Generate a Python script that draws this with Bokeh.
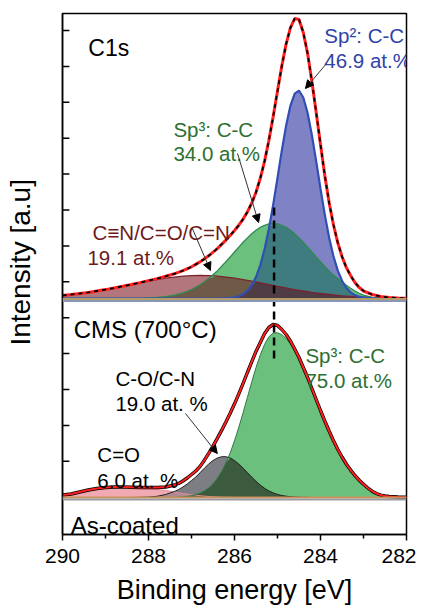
import numpy as np
from bokeh.plotting import figure
from bokeh.models import Range1d, FixedTicker, Label, Arrow, NormalHead, Span
from bokeh.embed import file_html
from bokeh.resources import INLINE

# ---------------- data: upper spectrum (C1s, fitted components) ----------------
top_x = [290.0, 289.8, 289.6, 289.4, 289.2, 289.0, 288.8, 288.6, 288.4, 288.2,
         288.0, 287.8, 287.6, 287.4, 287.2, 287.0, 286.8, 286.6, 286.4, 286.2,
         286.1, 286.0, 285.9, 285.8, 285.7, 285.6, 285.5, 285.4, 285.3, 285.2,
         285.1, 285.0, 284.9, 284.8, 284.7, 284.6, 284.5, 284.4, 284.3, 284.2,
         284.1, 284.0, 283.9, 283.8, 283.7, 283.6, 283.5, 283.4, 283.3, 283.2,
         283.1, 283.0, 282.8, 282.6, 282.4, 282.2, 282.0]
top_cn = [3.1, 4.0, 5.0, 6.1, 7.5, 8.9, 10.5, 12.2, 13.9, 15.7,
          17.4, 18.9, 20.3, 21.4, 22.3, 22.8, 23.0, 22.8, 22.3, 21.4,
          20.9, 20.3, 19.6, 18.9, 18.2, 17.4, 16.5, 15.7, 14.8, 13.9,
          13.1, 12.2, 11.4, 10.5, 9.7, 8.9, 8.2, 7.5, 6.8, 6.1,
          5.5, 5.0, 4.5, 4.0, 3.5, 3.1, 2.7, 2.4, 2.1, 1.8,
          1.6, 1.4, 1.0, 0.7, 0.5, 0.3, 0.2]
top_sp3 = [0.0, 0.0, 0.0, 0.0, 0.0, 0.0, 0.0, 0.0, 0.1, 0.2,
           0.5, 1.0, 1.9, 3.3, 5.5, 8.9, 13.6, 19.9, 27.6, 36.7,
           41.5, 46.5, 51.4, 56.2, 60.6, 64.7, 68.2, 71.1, 73.2, 74.6,
           75.0, 74.6, 73.2, 71.1, 68.2, 64.7, 60.6, 56.2, 51.4, 46.5,
           41.5, 36.7, 32.0, 27.6, 23.6, 19.9, 16.5, 13.2, 10.2, 7.5,
           5.2, 3.4, 1.2, 0.3, 0.0, 0.0, 0.0]
top_sp2 = [0.0, 0.0, 0.0, 0.0, 0.0, 0.0, 0.0, 0.0, 0.0, 0.0,
           0.0, 0.0, 0.0, 0.0, 0.0, 0.0, 0.0, 0.0, 0.0, 0.3,
           0.6, 1.2, 2.3, 4.3, 7.8, 13.2, 21.5, 33.4, 49.4, 69.8,
           93.9, 120.7, 147.9, 172.8, 192.7, 204.9, 207.8, 201.0, 185.5, 163.3,
           137.1, 109.8, 83.9, 61.1, 42.5, 28.1, 17.8, 10.7, 6.2, 3.4,
           1.8, 0.9, 0.2, 0.0, 0.0, 0.0, 0.0]
top_env = [3.1, 4.0, 5.0, 6.1, 7.5, 8.9, 10.5, 12.2, 14.0, 15.9,
           17.9, 19.9, 22.2, 24.7, 27.8, 31.7, 36.6, 42.7, 49.9, 58.4,
           63.0, 68.0, 73.3, 79.4, 86.6, 95.3, 106.2, 120.2, 137.4, 158.3,
           182.0, 207.5, 232.5, 254.4, 270.6, 280.0, 279.0, 266.0, 245.0, 217.0,
           186.0, 154.0, 123.0, 96.0, 74.0, 56.0, 42.0, 31.0, 23.0, 16.0,
           11.0, 7.5, 4.0, 2.0, 1.0, 0.5, 0.3]

# ---------------- data: lower spectrum (CMS 700 °C) ----------------
bot_x = [290.0, 289.8, 289.6, 289.4, 289.2, 289.0, 288.8, 288.6, 288.4, 288.2,
         288.0, 287.8, 287.6, 287.4, 287.3, 287.2, 287.1, 287.0, 286.9, 286.8,
         286.7, 286.6, 286.5, 286.4, 286.3, 286.2, 286.1, 286.0, 285.9, 285.8,
         285.7, 285.6, 285.5, 285.4, 285.3, 285.2, 285.1, 285.0, 284.9, 284.8,
         284.7, 284.6, 284.5, 284.4, 284.3, 284.2, 284.1, 284.0, 283.9, 283.8,
         283.7, 283.6, 283.5, 283.4, 283.3, 283.2, 283.1, 283.0, 282.9, 282.8,
         282.7, 282.6, 282.5, 282.4, 282.2, 282.0]
bot_co = [2.0, 3.5, 5.5, 7.5, 9.0, 10.0, 10.5, 10.5, 10.0, 9.5,
          9.0, 8.0, 7.0, 5.5, 4.7, 4.0, 3.4, 2.8, 2.3, 1.8,
          1.4, 1.0, 0.7, 0.5, 0.3, 0.2, 0.1, 0.0, 0.0, 0.0,
          0.0, 0.0, 0.0, 0.0, 0.0, 0.0, 0.0, 0.0, 0.0, 0.0,
          0.0, 0.0, 0.0, 0.0, 0.0, 0.0, 0.0, 0.0, 0.0, 0.0,
          0.0, 0.0, 0.0, 0.0, 0.0, 0.0, 0.0, 0.0, 0.0, 0.0,
          0.0, 0.0, 0.0, 0.0, 0.0, 0.0]
bot_con = [0.0, 0.0, 0.0, 0.0, 0.0, 0.0, 0.0, 0.0, 0.0, 0.2,
           0.5, 1.2, 3.0, 6.0, 8.0, 10.5, 13.5, 17.0, 20.4, 24.9,
           29.3, 33.5, 37.0, 39.5, 40.8, 40.8, 39.5, 37.0, 33.5, 29.3,
           24.9, 20.4, 16.2, 12.4, 9.2, 6.6, 4.6, 3.1, 2.0, 1.3,
           0.8, 0.5, 0.3, 0.2, 0.1, 0.0, 0.0, 0.0, 0.0, 0.0,
           0.0, 0.0, 0.0, 0.0, 0.0, 0.0, 0.0, 0.0, 0.0, 0.0,
           0.0, 0.0, 0.0, 0.0, 0.0, 0.0]
bot_sp3 = [0.0, 0.0, 0.0, 0.0, 0.0, 0.0, 0.0, 0.0, 0.0, 0.0,
           0.0, 0.0, 0.0, 0.2, 0.4, 0.7, 1.1, 1.8, 2.9, 4.4,
           6.6, 9.6, 13.7, 19.1, 26.0, 34.5, 44.7, 56.7, 70.2, 84.8,
           100.1, 115.3, 129.9, 142.7, 153.2, 160.7, 164.5, 164.8, 162.8, 159.0,
           153.5, 146.4, 138.0, 128.6, 118.4, 107.7, 96.8, 86.0, 75.5, 65.6,
           56.2, 47.6, 39.9, 33.0, 27.0, 21.8, 17.0, 12.8, 9.0, 5.8,
           3.4, 1.7, 0.6, 0.0, 0.0, 0.0]
bot_env = [2.5, 3.5, 5.5, 7.5, 9.0, 10.0, 10.5, 10.6, 10.3, 10.0,
           10.0, 10.0, 10.5, 12.5, 14.0, 16.5, 19.5, 23.0, 26.5, 31.1,
           37.3, 44.1, 51.4, 59.1, 67.1, 75.5, 84.3, 93.7, 103.7, 114.1,
           125.0, 135.7, 146.1, 155.1, 164.0, 170.0, 173.0, 172.0, 168.0, 163.0,
           156.5, 148.5, 140.0, 130.0, 120.0, 109.0, 98.0, 87.0, 76.5, 66.5,
           57.0, 48.3, 40.5, 33.5, 27.4, 22.0, 17.3, 13.2, 9.5, 6.3,
           4.0, 2.4, 1.5, 1.0, 0.5, 0.3]

x_major = [290, 288, 286, 284, 282]
x_minor = [289, 287, 285, 283]
peak_pos = 285.08  # dashed marker
y_ticks = [504.0, 468.1, 432.2, 396.3, 360.4, 324.5, 288.6, 252.7, 216.8, 180.9, 145.0, 109.1, 73.2]

# ---------------- layout constants ----------------
TOP_OFF = 236.0
BOT_OFF = 37.0
FONT = "Liberation Sans"

p = figure(frame_width=344, frame_height=521, output_backend="svg", toolbar_location=None,
           x_range=Range1d(290, 282), y_range=Range1d(0, 521),
           min_border_left=62, min_border_right=10, min_border_top=13, min_border_bottom=0)
p.xgrid.visible = False
p.ygrid.visible = False
p.outline_line_color = "black"
p.outline_line_width = 1.5
p.background_fill_color = "white"


def arr(a):
    return np.array(a, dtype=float)


# ----- upper fills -----
tx = arr(top_x)
cn, s3, s2, env = arr(top_cn), arr(top_sp3), arr(top_sp2), arr(top_env)
p.varea(x=tx, y1=TOP_OFF, y2=TOP_OFF + cn, fill_color="#b4767d")
p.varea(x=tx, y1=TOP_OFF, y2=TOP_OFF + s3, fill_color="#6cc07d")
p.varea(x=tx, y1=TOP_OFF, y2=TOP_OFF + s2, fill_color="#7f82c4")
p.varea(x=tx, y1=TOP_OFF, y2=TOP_OFF + np.minimum(cn, s3), fill_color="#6e5a46")
p.varea(x=tx, y1=TOP_OFF, y2=TOP_OFF + np.minimum(s3, s2), fill_color="#3e7c80")
p.varea(x=tx, y1=TOP_OFF, y2=TOP_OFF + np.minimum(np.minimum(cn, s3), s2), fill_color="#503c44")
p.line(tx, TOP_OFF + cn, line_color="#7b2230", line_width=1.3)
p.line(tx, TOP_OFF + s3, line_color="#2f8a4f", line_width=1.3)
p.line(tx, TOP_OFF + s2, line_color="#2f4fb5", line_width=2.2)
p.line(tx, TOP_OFF + env, line_color="#ff1f1f", line_width=3)
p.line(tx, TOP_OFF + env, line_color="black", line_width=1.8, line_dash="4 4")

# ----- lower fills -----
bx = arr(bot_x)
co, con, b3, benv = arr(bot_co), arr(bot_con), arr(bot_sp3), arr(bot_env)
p.varea(x=bx, y1=BOT_OFF, y2=BOT_OFF + co, fill_color="#f2aab2")
p.varea(x=bx, y1=BOT_OFF, y2=BOT_OFF + con, fill_color="#7d7d84")
p.varea(x=bx, y1=BOT_OFF, y2=BOT_OFF + b3, fill_color="#6cc07e")
p.varea(x=bx, y1=BOT_OFF, y2=BOT_OFF + np.minimum(co, con), fill_color="#b08a90")
p.varea(x=bx, y1=BOT_OFF, y2=BOT_OFF + np.minimum(con, b3), fill_color="#3b5a3e")
p.line(bx, BOT_OFF + co, line_color="#e88a96", line_width=1)
p.line(bx, BOT_OFF + con, line_color="#222222", line_width=1)
p.line(bx, BOT_OFF + b3, line_color="#2d7a43", line_width=1)
p.line(bx, BOT_OFF + benv, line_color="black", line_width=3.4)
p.line(bx, BOT_OFF + benv, line_color="#ff1f1f", line_width=2)

# ----- baselines / separators -----
p.add_layout(Span(location=TOP_OFF - 0.5, dimension="width", line_color="#b59d6a", line_width=2))
p.add_layout(Span(location=TOP_OFF - 2.5, dimension="width", line_color="#8a96b8", line_width=2))
p.add_layout(Span(location=BOT_OFF, dimension="width", line_color="#c8925a", line_width=2))
p.add_layout(Span(location=BOT_OFF - 2, dimension="width", line_color="#9a9aa0", line_width=2))

# dashed marker
p.segment(x0=[peak_pos], y0=[176], x1=[peak_pos], y1=[327], line_color="black",
          line_width=2.5, line_dash="8 5")

# inward y tick marks on the left frame edge (unlabelled intensity axis)
p.segment(x0=[290.0] * len(y_ticks), y0=y_ticks, x1=[289.84] * len(y_ticks), y1=y_ticks,
          line_color="black", line_width=1.5)

# ----- x axis -----
p.xaxis.ticker = FixedTicker(ticks=x_major, minor_ticks=x_minor)
p.xaxis.major_tick_in = 0
p.xaxis.major_tick_out = 6
p.xaxis.minor_tick_in = 0
p.xaxis.minor_tick_out = 4
p.xaxis.major_tick_line_width = 1.5
p.xaxis.minor_tick_line_width = 1.5
p.xaxis.axis_line_width = 1.5
p.xaxis.major_label_text_font = FONT
p.xaxis.major_label_text_font_size = "21px"
p.xaxis.major_label_text_color = "black"
p.xaxis.major_label_standoff = 8
p.xaxis.axis_label = "Binding energy [eV]"
p.xaxis.axis_label_text_font = FONT
p.xaxis.axis_label_text_font_size = "27px"
p.xaxis.axis_label_text_font_style = "normal"
p.xaxis.axis_label_text_color = "black"
p.xaxis.axis_label_standoff = 9

# ----- y axis: no ticks/labels of its own, only the title -----
p.yaxis.ticker = FixedTicker(ticks=[], minor_ticks=[])
p.yaxis.axis_line_width = 1.5
p.yaxis.major_label_standoff = 0
p.yaxis.axis_label = "\u00a0\u00a0\u00a0Intensity [a.u]"
p.yaxis.axis_label_text_font = FONT
p.yaxis.axis_label_text_font_size = "28px"
p.yaxis.axis_label_text_font_style = "normal"
p.yaxis.axis_label_text_color = "black"
p.yaxis.axis_label_standoff = 27


# ----- annotations -----
def lab(x, y, t, color, size="20.5px"):
    p.add_layout(Label(x=x, y=y, text=t, text_font=FONT, text_font_size=size,
                       text_color=color, text_align="left", text_baseline="alphabetic"))


BLUE_T = "#2f44a8"
GREEN_T = "#2e7031"
RED_T = "#6e1a1a"
lab(289.40, 487, "C1s", "black", "23px")
lab(283.91, 499, "Sp²: C-C", BLUE_T)
lab(283.91, 474, "46.9 at.%", BLUE_T)
lab(287.42, 405, "Sp³: C-C", GREEN_T)
lab(287.42, 381, "34.0 at.%", GREEN_T)
lab(289.30, 302, "C≡N/C=O/C=N", RED_T)
lab(289.42, 277, "19.1 at.%", RED_T)
lab(289.74, 205, "CMS (700°C)", "black", "24px")
lab(284.35, 179, "Sp³: C-C", GREEN_T)
lab(284.35, 154, "75.0 at.%", GREEN_T)
lab(288.77, 156, "C-O/C-N", "black")
lab(288.77, 131, "19.0 at. %", "black")
lab(289.19, 80, "C=O", "black")
lab(289.19, 54, "6.0 at. %", "black")
lab(289.81, 9, "As-coated", "black", "24px")


def arrow(x0, y0, x1, y1):
    p.add_layout(Arrow(end=NormalHead(size=8, fill_color="black", line_color="black", line_width=1),
                       x_start=x0, y_start=y0, x_end=x1, y_end=y1,
                       line_color="#333333", line_width=1))


arrow(283.86, 471, 284.35, 446)
arrow(285.93, 381, 285.44, 312)
arrow(286.98, 306, 286.56, 264)
arrow(287.14, 121, 286.40, 81)

open("out.html", "w").write(file_html(p, INLINE))
